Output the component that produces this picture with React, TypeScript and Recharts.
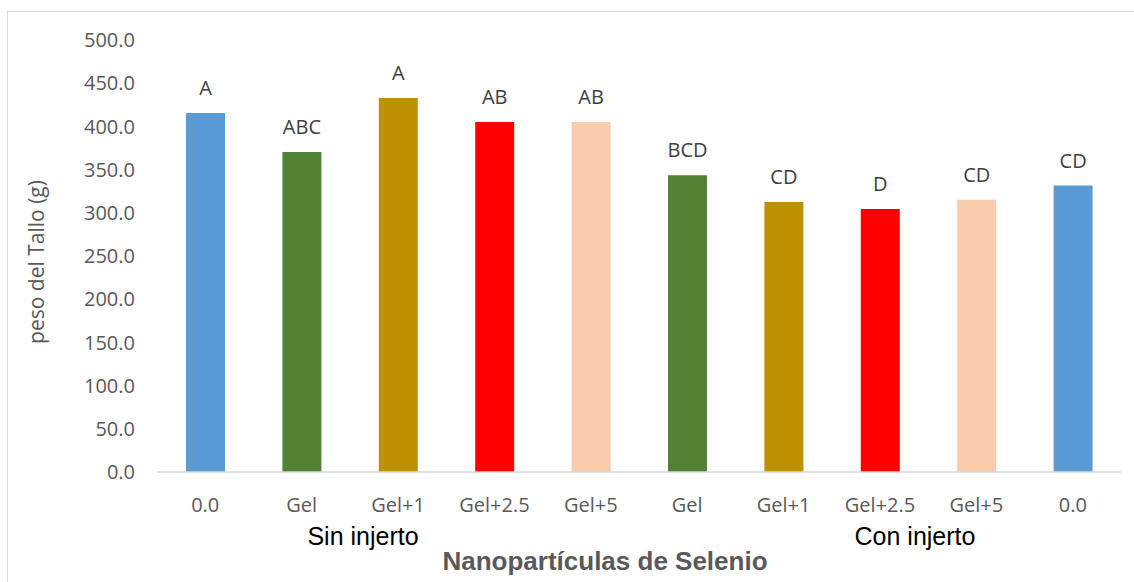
import React from "react";
import { BarChart, Bar, XAxis, YAxis, Cell, LabelList } from "recharts";

const categories = ["0.0", "Gel", "Gel+1", "Gel+2.5", "Gel+5", "Gel", "Gel+1", "Gel+2.5", "Gel+5", "0.0"];
const values = [415.5, 370.5, 433, 405, 405, 343.5, 312.5, 304.5, 315, 331.5];
const letters = ["A", "ABC", "A", "AB", "AB", "BCD", "CD", "D", "CD", "CD"];
const colors = ["#5B9BD5", "#548235", "#BF9000", "#FF0000", "#F8CBAD", "#548235", "#BF9000", "#FF0000", "#F8CBAD", "#5B9BD5"];
const yTicks = [0, 50, 100, 150, 200, 250, 300, 350, 400, 450, 500];
const groupLabels = ["Sin injerto", "Con injerto"];
const xTitle = "Nanopartículas de Selenio";
const yTitle = "peso del Tallo (g)";

const data = categories.map((c, i) => ({ id: i, cat: c, value: values[i], letter: letters[i] }));

const font = "'Open Sans', sans-serif";

export default function App() {
  return (
    <div style={{ position: "absolute", left: 0, top: 0, width: 1134, height: 582, background: "#fff", overflow: "hidden" }}>
      <div style={{ position: "absolute", left: 7, top: 11, width: 1140, height: 600, border: "1px solid #d9d9d9" }} />
      <div style={{ position: "absolute", left: 0, top: 0 }}>
        <BarChart width={1134} height={582} data={data} margin={{ top: 40, right: 13, left: 77, bottom: 80 }}>
          <XAxis
            dataKey="id"
            tickFormatter={(v: number) => categories[v]}
            axisLine={{ stroke: "#d9d9d9", strokeWidth: 1.5 }}
            tickLine={false}
            tickSize={0}
            tickMargin={26}
            height={30}
            interval={0}
            tick={{ fill: "#595959", fontSize: 20, fontFamily: font }}
          />
          <YAxis
            domain={[0, 500]}
            ticks={yTicks}
            width={80}
            axisLine={false}
            tickLine={false}
            tickSize={0}
            tickMargin={22}
            tickFormatter={(v: number) => v.toFixed(1)}
            tick={{ fill: "#595959", fontSize: 20, fontFamily: font }}
          />
          <Bar dataKey="value" barSize={39} isAnimationActive={false}>
            {data.map((d, i) => (
              <Cell key={i} fill={colors[i]} />
            ))}
            <LabelList dataKey="letter" position="top" offset={18} fill="#404040" fontSize={20} fontFamily={font} />
          </Bar>
        </BarChart>
      </div>
      <svg width={1134} height={582} style={{ position: "absolute", left: 0, top: 0, pointerEvents: "none" }}>
        <text x={36} y={262} transform="rotate(-90 36 262)" textAnchor="middle" dominantBaseline="central" fill="#595959" fontSize={21} fontFamily={font}>
          {yTitle}
        </text>
        <text x={363} y={545} textAnchor="middle" fill="#000" fontSize={25} fontFamily="'Liberation Sans', Arial, sans-serif">
          {groupLabels[0]}
        </text>
        <text x={915} y={545} textAnchor="middle" fill="#000" fontSize={25} fontFamily="'Liberation Sans', Arial, sans-serif">
          {groupLabels[1]}
        </text>
        <text x={605} y={570} textAnchor="middle" fill="#595959" fontSize={26} fontWeight="bold" fontFamily="'Liberation Sans', Arial, sans-serif">
          {xTitle}
        </text>
      </svg>
    </div>
  );
}
